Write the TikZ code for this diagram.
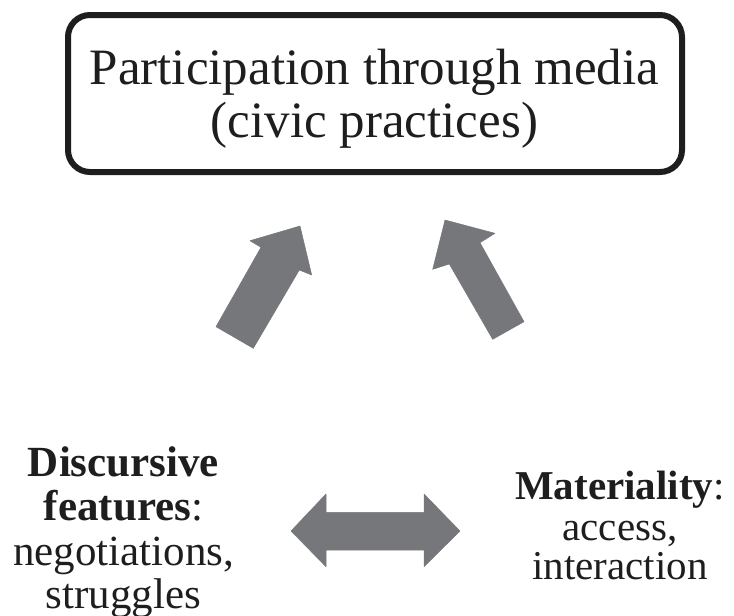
\documentclass[tikz,border=0pt]{standalone}
\usepackage{fontspec}
\setmainfont{Liberation Serif}
\definecolor{arrowgray}{RGB}{118,119,122}
\definecolor{inkblack}{RGB}{30,30,30}
\begin{document}
\begin{tikzpicture}[x=1pt,y=-1pt,
  frame/.style={draw=inkblack,line width=6pt,rounded corners=22pt,minimum width=614pt,minimum height=157pt,inner sep=0pt},
  ttl/.style={anchor=base,inner sep=0pt,text=inkblack,font=\fontsize{51}{53}\selectfont},
  lbl/.style={anchor=base,inner sep=0pt,text=inkblack,font=\fontsize{43}{44}\selectfont},
  rbl/.style={anchor=base,inner sep=0pt,text=inkblack,font=\fontsize{41}{42}\selectfont},
  blockarrow/.style={fill=arrowgray,draw=arrowgray,line width=0.5pt,line join=round}]
\useasboundingbox (0,0) rectangle (734,616);
% title box
\node[frame] (box) at (375,93.5) {};
\node[ttl] (t1) at (374.5,84) {Participation through media};
\node[ttl] (t2) at (374.5,137) {(civic practices)};
% left block
\node[lbl] (l1) at (123.5,476) {\textbf{Discursive}};
\node[lbl] (l2) at (123.5,520) {\textbf{features}:};
\node[lbl] (l3) at (123.5,565) {negotiations,};
\node[lbl] (l4) at (123.5,608) {struggles};
% right block
\node[rbl] (r1) at (620,499) {\textbf{Materiality}:};
\node[rbl] (r2) at (620,540) {access,};
\node[rbl] (r3) at (620,579) {interaction};
% left up-arrow
\coordinate (la) at (300,226);
\filldraw[blockarrow] (la) -- (311.7,275) -- (299.3,270) -- (253.3,348.3) -- (216,326.7) -- (261,247.3) -- (250,240.7) -- cycle;
% right up-arrow
\coordinate (ra) at (445,220);
\filldraw[blockarrow] (ra) -- (495,233.3) -- (480,242.7) -- (524,321.7) -- (492.7,339.3) -- (449.3,264) -- (432.7,269.3) -- cycle;
% double arrow
\coordinate (dl) at (291,531);
\coordinate (dr) at (460,531);
\filldraw[blockarrow] (dl) -- (326,494) -- (326,512.3) -- (424,512.3) -- (424,494) -- (dr) -- (424,566.7) -- (424,550) -- (326,550) -- (326,566.7) -- cycle;
\end{tikzpicture}
\end{document}
